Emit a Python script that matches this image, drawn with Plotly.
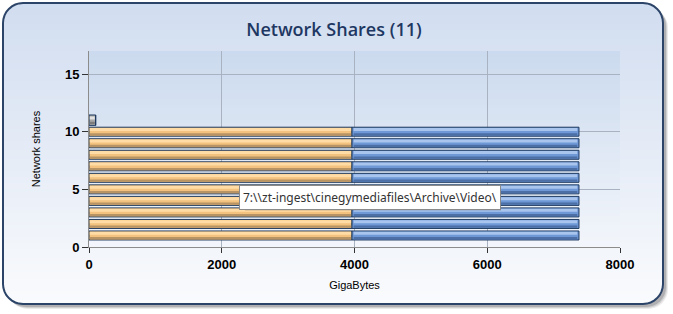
import math
import plotly.graph_objects as go

# ---------------- data ----------------
share_index = [1, 2, 3, 4, 5, 6, 7, 8, 9, 10, 11]
used_gb = [3962, 3962, 3962, 3962, 3962, 3962, 3962, 3962, 3962, 3962, 100]
free_gb = [3420, 3420, 3420, 3420, 3420, 3420, 3420, 3420, 3420, 3420, 0]
x_ticks = [0, 2000, 4000, 6000, 8000]
y_ticks = [0, 5, 10, 15]
title_text = "Network Shares (11)"
tooltip_text = "7:\\\\zt-ingest\\cinegymediafiles\\Archive\\Video\\"

W, H = 673, 314
PL, PR, PT, PB = 89, 620, 51, 247   # plot area in pixels


def px(x):
    return (x - PL) / (PR - PL)


def py(y):
    return (PB - y) / (PB - PT)


def rr_extent(y, x0, y0, x1, y1, r):
    if y < y0 + r:
        d = y0 + r - y
    elif y > y1 - r:
        d = y - (y1 - r)
    else:
        d = 0
    d = min(d, r)
    off = r - math.sqrt(max(r * r - d * d, 0))
    return x0 + off, x1 - off


def rr_path(x0, y0, x1, y1, r, n=8):
    pts = []
    def arc(cx, cy, a0, a1):
        for i in range(n + 1):
            a = a0 + (a1 - a0) * i / n
            pts.append((cx + r * math.cos(a), cy + r * math.sin(a)))
    arc(x1 - r, y0 + r, -math.pi / 2, 0)
    arc(x1 - r, y1 - r, 0, math.pi / 2)
    arc(x0 + r, y1 - r, math.pi / 2, math.pi)
    arc(x0 + r, y0 + r, math.pi, 1.5 * math.pi)
    s = "M " + " L ".join(f"{px(a):.5f},{py(b):.5f}" for a, b in pts) + " Z"
    return s


def lerp_col(c0, c1, t):
    return "rgb(%d,%d,%d)" % tuple(round(a + (b - a) * t) for a, b in zip(c0, c1))


shapes = []
# panel shadow
for k, op in [(5, 0.10), (4, 0.15), (3, 0.22)]:
    shapes.append(dict(type="path", xref="paper", yref="paper", layer="below",
                       path=rr_path(3 + k, 3 + k, 663 + k, 304 + k, 20),
                       fillcolor=f"rgba(60,60,70,{op})", line=dict(width=0)))
# panel base
PX0, PY0, PX1, PY1, R = 3, 3, 663, 304, 20
shapes.append(dict(type="path", xref="paper", yref="paper", layer="below",
                   path=rr_path(PX0, PY0, PX1, PY1, R),
                   fillcolor="rgb(250,251,253)", line=dict(width=0)))
# panel gradient bands
top_c, bot_c = (209, 221, 240), (250, 251, 253)
step = 3
y = PY0
while y < PY1:
    ya, yb = y, min(y + step + 0.6, PY1)
    la, ra = rr_extent(ya, PX0, PY0, PX1, PY1, R)
    lb, rb = rr_extent(yb, PX0, PY0, PX1, PY1, R)
    t = (y - PY0) / (PY1 - PY0)
    path = (f"M {px(la):.5f},{py(ya):.5f} L {px(ra):.5f},{py(ya):.5f} "
            f"L {px(rb):.5f},{py(yb):.5f} L {px(lb):.5f},{py(yb):.5f} Z")
    shapes.append(dict(type="path", xref="paper", yref="paper", layer="below",
                       path=path, fillcolor=lerp_col(top_c, bot_c, t), line=dict(width=0)))
    y += step
# plot-area gradient
ptop, pbot = (203, 218, 238), (243, 246, 251)
y = PT
while y < PB:
    yb = min(y + step + 0.6, PB)
    t = (y - PT) / (PB - PT)
    shapes.append(dict(type="rect", xref="paper", yref="paper", layer="below",
                       x0=0, x1=1, y0=py(yb), y1=py(y),
                       fillcolor=lerp_col(ptop, pbot, t), line=dict(width=0)))
    y += step
# panel border
shapes.append(dict(type="path", xref="paper", yref="paper", layer="above",
                   path=rr_path(PX0, PY0, PX1, PY1, R),
                   fillcolor="rgba(0,0,0,0)", line=dict(color="#2b4468", width=2)))
# tooltip drop shadow
for k, op in [(3, 0.12), (2, 0.18)]:
    shapes.append(dict(type="rect", xref="paper", yref="paper", layer="above",
                       x0=px(242 + k), x1=px(498 + k), y0=py(208 + k), y1=py(186 + k),
                       fillcolor=f"rgba(40,40,50,{op})", line=dict(width=0)))

orange = ["#f2c27e"] * 10 + ["#a8a8a8"]
orange_hi = ["#ffdca6"] * 10 + ["#e2e2e2"]
orange_lo = ["#b89364"] * 10 + ["#7c7c7c"]
blue = "#6e98d6"
blue_hi = "#a9c5ee"
blue_lo = "#4c6fa6"
widths = [0.78] * 10 + [0.9]
outline = "#1f3a5f"

fig = go.Figure()
fig.add_trace(go.Bar(y=share_index, x=used_gb, base=0, orientation="h", width=widths,
                     marker=dict(color=orange, line=dict(color=outline, width=1)),
                     name="Used", hoverinfo="skip"))
fig.add_trace(go.Bar(y=share_index, x=free_gb, base=used_gb, orientation="h", width=widths,
                     marker=dict(color=blue, line=dict(color=outline, width=1)),
                     name="Free", hoverinfo="skip"))
# gradient highlights
hi_w = 0.26
lo_w = 0.2
used_inner = [max(u - 25, 0) for u in used_gb]
free_inner = [max(f - 50, 0) for f in free_gb]
fig.add_trace(go.Bar(y=share_index, x=used_inner, base=[12] * 11, orientation="h",
                     width=hi_w, offset=0.06, marker=dict(color=orange_hi, line=dict(width=0)),
                     hoverinfo="skip"))
fig.add_trace(go.Bar(y=share_index, x=used_inner, base=[12] * 11, orientation="h",
                     width=lo_w, offset=-0.34, marker=dict(color=orange_lo, line=dict(width=0)),
                     hoverinfo="skip"))
fig.add_trace(go.Bar(y=share_index[:10], x=free_inner[:10],
                     base=[u + 25 for u in used_gb[:10]], orientation="h",
                     width=hi_w, offset=0.06, marker=dict(color=blue_hi, line=dict(width=0)),
                     hoverinfo="skip"))
fig.add_trace(go.Bar(y=share_index[:10], x=free_inner[:10],
                     base=[u + 25 for u in used_gb[:10]], orientation="h",
                     width=lo_w, offset=-0.34, marker=dict(color=blue_lo, line=dict(width=0)),
                     hoverinfo="skip"))

axis_font = dict(family="Liberation Sans", size=13, color="black", weight="bold")
fig.update_layout(
    width=W, height=H, barmode="overlay", showlegend=False,
    margin=dict(l=PL, r=W - PR, t=PT, b=H - PB),
    paper_bgcolor="white", plot_bgcolor="rgba(0,0,0,0)",
    shapes=shapes,
    title=dict(text=title_text, x=px(334), xref="paper", xanchor="center",
               y=1 - 29.5 / H, yref="container", yanchor="middle",
               font=dict(family="Open Sans", size=18, color="#1e3762", weight=600)),
    xaxis=dict(range=[0, 8000], tickvals=x_ticks, ticks="outside", ticklen=5,
               tickcolor="#333", showline=True, linecolor="#8c8c8c", linewidth=1,
               showgrid=True, gridcolor="#a9b2c0", gridwidth=1, zeroline=False,
               tickfont=axis_font,
               title=dict(text="GigaBytes", standoff=10,
                          font=dict(family="Liberation Sans", size=11, color="black"))),
    yaxis=dict(range=[0, 17], tickvals=y_ticks, ticks="outside", ticklen=6,
               tickcolor="#333", showline=True, linecolor="#8c8c8c", linewidth=1,
               showgrid=True, gridcolor="#a9b2c0", gridwidth=1, zeroline=False,
               tickfont=axis_font,
               title=dict(text="Network shares", standoff=22,
                          font=dict(family="Liberation Sans", size=11, color="black"))),
    annotations=[
        dict(text=tooltip_text, xref="paper", yref="paper", x=px(370), y=py(197),
             xanchor="center", yanchor="middle", showarrow=False,
             font=dict(family="Noto Sans", size=12, color="#333"),
             bgcolor="white", bordercolor="#8a8a8a", borderwidth=1, borderpad=3),
    ],
)
fig.write_html("out.html")
